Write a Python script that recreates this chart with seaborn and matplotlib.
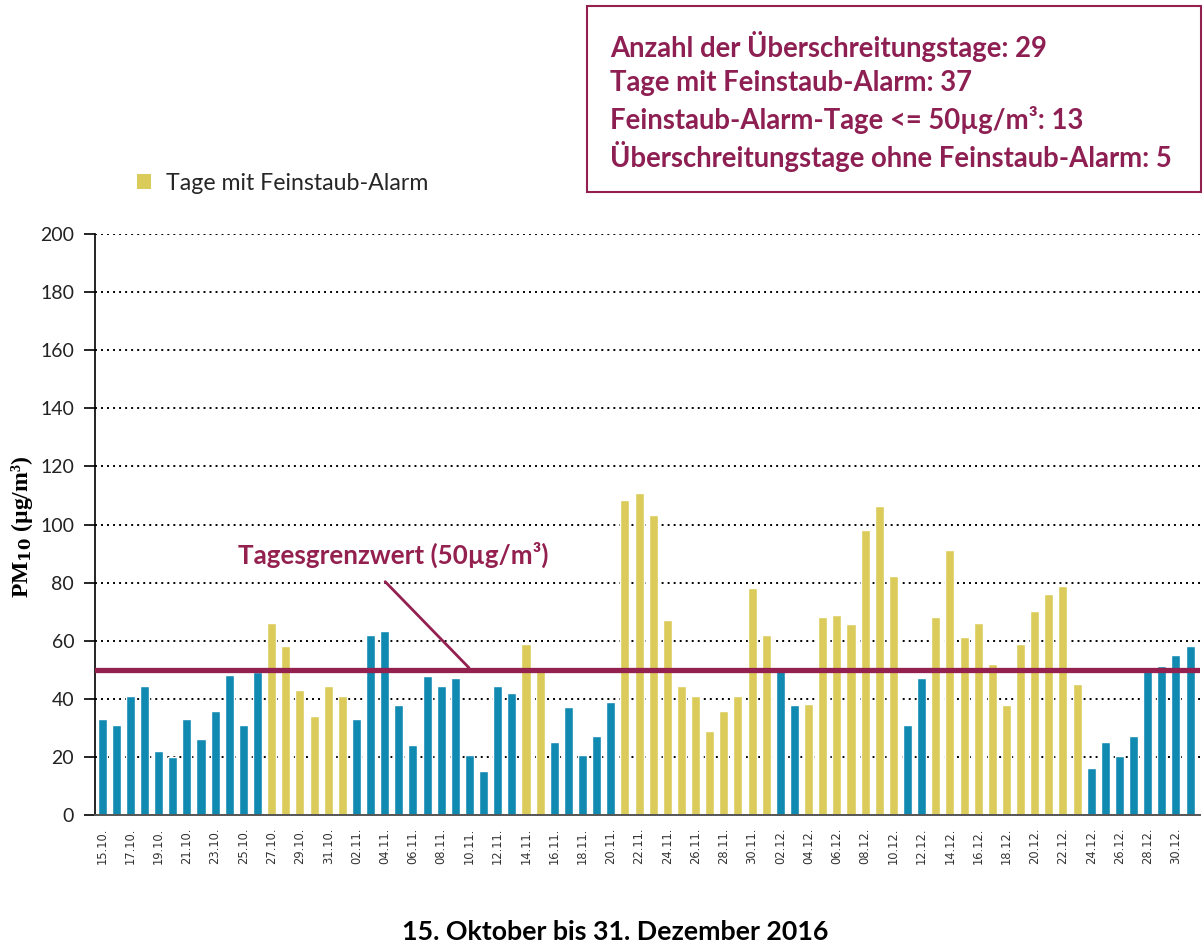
import numpy as np
import pandas as pd
import matplotlib
matplotlib.use("Agg")
import matplotlib.pyplot as plt
from matplotlib.patches import Patch, Rectangle
import seaborn as sns

# ---------------- data ----------------
dates = ([f"{d:02d}.10." for d in range(15, 32)] +
         [f"{d:02d}.11." for d in range(1, 31)] +
         [f"{d:02d}.12." for d in range(1, 32)])

pm10 = [33, 31, 41, 44.4, 22, 20, 33, 26.2, 35.8, 48.2, 31, 49.3, 66, 58.2, 43, 34, 44.4,   # Oct 15-31
        41, 33, 62, 63.3, 37.9, 24.1, 47.8, 44.4, 47.1, 20.6, 15.1, 44.4, 42, 58.9, 50,       # Nov 1-15
        25.1, 37.2, 20.6, 27.2, 39, 108.4, 110.8, 103.2, 67.1, 44.4, 41, 28.9, 35.8, 41, 78.1,  # Nov 16-30
        62, 49.6, 37.9, 38.2, 68.2, 68.8, 65.7, 98.1, 106.4, 82.3, 31, 47.1, 68.2, 91.2, 61.3, 66.1,  # Dec 1-16
        52, 37.9, 58.9, 70.2, 76.1, 78.8, 45.1, 16.2, 25.1, 20.3, 27.2, 49.6, 51.3, 55, 58.2]  # Dec 17-31

alarm = ([0]*12 + [1]*5 +                 # Oct
         [1] + [0]*12 + [1, 1] + [0]*5 + [1]*10 +   # Nov
         [1] + [0, 0] + [1]*7 + [0, 0] + [1]*11 + [0]*8)  # Dec

limit_value = 50
info_lines = ["Anzahl der Überschreitungstage: 29",
              "Tage mit Feinstaub-Alarm: 37",
              "Feinstaub-Alarm-Tage <= 50µg/m³: 13",
              "Überschreitungstage ohne Feinstaub-Alarm: 5"]
legend_label = "Tage mit Feinstaub-Alarm"
limit_label = "Tagesgrenzwert (50µg/m³)"
x_title = "15. Oktober bis 31. Dezember 2016"
y_ticks = [0, 20, 40, 60, 80, 100, 120, 140, 160, 180, 200]

# ---------------- style ----------------
BLUE = "#118AB2"
YELLOW = "#DBCB5A"
MAROON = "#93204F"
TEXTRED = "#8E1F52"

sns.set_theme(style="white")
plt.rcParams["font.family"] = ["Lato", "DejaVu Sans"]
plt.rcParams["mathtext.fontset"] = "dejavuserif"

df = pd.DataFrame({"date": dates, "pm10": pm10,
                   "alarm": ["ja" if a else "nein" for a in alarm]})

fig = plt.figure(figsize=(12.04, 9.46), dpi=100)
ax = fig.add_axes([95/1204, 1-815/946, (1200-95)/1204, (815-234)/946])

sns.barplot(data=df, x="date", y="pm10", hue="alarm", order=dates,
            palette={"ja": YELLOW, "nein": BLUE}, dodge=False, width=0.64,
            legend=False, ax=ax, saturation=1)

n = len(dates)
ax.set_xlim(-0.45, n - 0.3)
ax.set_ylim(0, 200)
ax.set_yticks(y_ticks)
ax.set_yticklabels([str(v) for v in y_ticks], fontsize=14, color="#222222")

# grid
ax.set_axisbelow(True)
for v in y_ticks[1:]:
    ax.axhline(v, color="black", lw=1.4, linestyle=(0, (1, 2.1)), zorder=0)

# limit line
ax.axhline(limit_value, color=MAROON, lw=3.8, zorder=3)

# x ticks: labels every other day, ticks at boundaries
ax.set_xticks(range(0, n, 2))
ax.set_xticklabels(dates[0::2], rotation=90, fontsize=8.3, color="#333333",
                   family=["DejaVu Sans"])
ax.tick_params(axis="x", which="major", length=0, pad=9)
ax.set_xticks(np.arange(-0.5, n, 1.0), minor=True)
ax.tick_params(axis="x", which="minor", length=6, width=1.4, color="black",
               direction="out")
ax.tick_params(axis="y", which="major", length=8, width=1.2, color="black",
               direction="out", left=True, pad=7)

for s in ["top", "right"]:
    ax.spines[s].set_visible(False)
ax.spines["left"].set_color("black")
ax.spines["left"].set_linewidth(1.2)
ax.spines["bottom"].set_color("#555555")
ax.spines["bottom"].set_linewidth(1.4)

ax.set_xlabel("")
ax.set_ylabel("")

# annotation for limit line
ax.annotate("", xy=(26.1, limit_value), xytext=(19.9, 81),
            arrowprops=dict(arrowstyle="-", color=MAROON, lw=2), zorder=4)
ax.text(20.6, 89.5, limit_label, ha="center", va="center", fontsize=18.7,
        fontweight="bold", color=MAROON)

# y label
fig.text(22/1204, 1-527/946, r"PM$_{\mathbf{10}}$ (µg/m³)", rotation=90,
         ha="center", va="center", fontsize=17, fontweight="bold",
         family=["Liberation Serif", "DejaVu Serif"], color="black")

# x title
fig.text(615/1204, 1-932/946, x_title, ha="center", va="center", fontsize=19.3,
         fontweight="bold", color="black")

# legend
fig.legend(handles=[Patch(facecolor=YELLOW, edgecolor="none", label=legend_label)],
           loc="center left", bbox_to_anchor=(116/1204, 1-183/946),
           frameon=False, fontsize=16.7, handlelength=0.62, handleheight=0.62,
           handletextpad=0.65)

# info box
box = Rectangle((587/1204, 1-192/946), (1201-587)/1204, (192-6)/946,
                transform=fig.transFigure, fill=False, edgecolor=MAROON, lw=1.5)
fig.patches.append(box)
for i, line in enumerate(info_lines):
    fig.text(610/1204, 1-(46 + 37*i)/946, line, ha="left", va="center",
             fontsize=19.8, fontweight="bold", color=TEXTRED)

fig.savefig("out.png", dpi=100)
